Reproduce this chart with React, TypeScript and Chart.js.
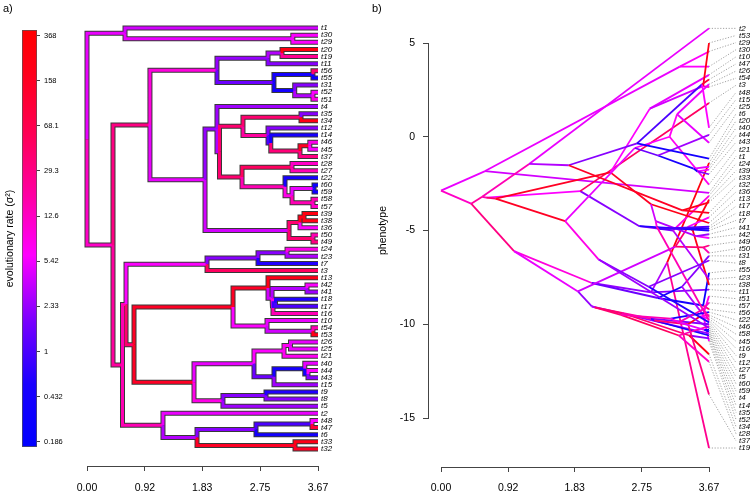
import React, { useEffect, useRef } from "react";
import { Chart, registerables } from "chart.js";
Chart.register(...registerables);

const FONT = "'Liberation Sans', Arial, Helvetica, sans-serif";
Chart.defaults.font.family = FONT;

// ---------------- data ----------------
const tipOrder = ["t1","t30","t29","t20","t19","t11","t56","t55","t31","t52","t51","t4","t35","t34","t12","t14","t46","t45","t37","t28","t27","t22","t60","t59","t58","t57","t39","t38","t36","t50","t49","t24","t23","t7","t3","t13","t42","t41","t18","t17","t16","t10","t54","t53","t26","t25","t21","t40","t44","t43","t15","t9","t8","t5","t2","t48","t47","t6","t33","t32"];

const nodeChildren: Record<string, string[]> = {
  root: ["Top", "A"], Top: ["t1", "N3029"], N3029: ["t30", "t29"],
  A: ["B", "Q"], B: ["C", "D"], C: ["C1", "C2"], C1: ["N2019", "t11"], N2019: ["t20", "t19"],
  C2: ["N5655", "N31"], N5655: ["t56", "t55"], N31: ["t31", "N5251"], N5251: ["t52", "t51"],
  D: ["E", "N"], E: ["t4", "F"], F: ["G", "K"], G: ["N3534", "H"], N3534: ["t35", "t34"],
  H: ["t12", "I"], I: ["t14", "J"], J: ["N4645", "t37"], N4645: ["t46", "t45"],
  K: ["N2827", "L"], N2827: ["t28", "t27"], L: ["t22", "M"], M: ["N6059", "N5857"],
  N6059: ["t60", "t59"], N5857: ["t58", "t57"],
  N: ["N1", "N5049"], N1: ["N3938", "t36"], N3938: ["t39", "t38"], N5049: ["t50", "t49"],
  Q: ["O", "AE"], O: ["R", "P"], R: ["S", "t3"], S: ["N2423", "t7"], N2423: ["t24", "t23"],
  P: ["T", "Y"], T: ["U", "X"], U: ["t13", "V"], V: ["N4241", "W"], N4241: ["t42", "t41"],
  W: ["W1", "t16"], W1: ["t18", "t17"], X: ["t10", "N5453"], N5453: ["t54", "t53"],
  Y: ["Z", "AD"], Z: ["AA", "AB"], AA: ["N2625", "t21"], N2625: ["t26", "t25"],
  AB: ["AC", "t15"], AC: ["t40", "N4443"], N4443: ["t44", "t43"],
  AD: ["N98", "t5"], N98: ["t9", "t8"],
  AE: ["t2", "AF"], AF: ["AG", "N3332"], AG: ["N4847", "t6"], N4847: ["t48", "t47"], N3332: ["t33", "t32"],
};

const nodeTime: Record<string, number> = {
  root: 0, Top: 0.604, N3029: 3.27, A: 0.413, B: 1.0, C: 2.065, C1: 2.876, N2019: 3.098, C2: 2.97,
  N5655: 3.59, N31: 3.3, N5251: 3.59, D: 1.875, E: 2.065, F: 2.105, G: 2.478, N3534: 3.4, H: 2.876,
  I: 2.92, J: 3.384, N4645: 3.54, K: 2.463, N2827: 3.257, L: 3.146, M: 3.257, N6059: 3.607, N5857: 3.59,
  N: 3.21, N1: 3.384, N3938: 3.448, N5049: 3.59, Q: 0.564, O: 0.62, R: 1.907, S: 2.717, N2423: 3.178,
  P: 0.747, T: 2.32, U: 2.876, V: 2.94, N4241: 3.495, W: 2.955, W1: 2.995, X: 2.86, N5453: 3.59,
  Y: 1.7, Z: 2.653, AA: 3.13, N2625: 3.233, AB: 2.971, AC: 3.46, N4443: 3.511, AD: 2.16, N98: 2.844,
  AE: 1.207, AF: 1.748, AG: 2.685, N4847: 3.575, N3332: 3.305,
};

// phenotype of internal nodes
const nodeValue: Record<string, number> = {
  root: -2.87, Top: -1.83, N3029: 3.74, A: -3.57, B: -6.1, C: -7.8, C1: -8.3, N2019: -6.7, C2: -8.6,
  N5655: -9.0, N31: -8.0, N5251: -9.5, D: -8.25, E: -9.05, F: -9.1, G: -9.4, N3534: -10.6, H: -9.7,
  I: -9.8, J: -10.0, N4645: -9.6, K: -9.5, N2827: -10.6, L: -9.7, M: -9.9, N6059: -10.3, N5857: -9.2,
  N: -5.86, N1: -4.8, N3938: -5.0, N5049: -5.9, Q: -3.2, O: -3.25, R: -2.9, S: -4.77, N2423: -5.0,
  P: -3.3, T: -1.9, U: -3.6, V: -4.5, N4241: -5.3, W: -4.8, W1: -4.9, X: 1.5, N5453: 2.7,
  Y: -4.5, Z: -0.6, AA: 0.0, N2625: 1.2, AB: -1.0, AC: -1.7, N4443: -1.85, AD: -6.55, N98: -8.0,
  AE: -1.45, AF: -1.52, AG: -0.35, N4847: 2.8, N3332: -3.93,
};

// phenotype of tips
const tipValue: Record<string, number> = {
  t2: 5.78, t53: 5.0, t29: 4.55, t30: 3.74, t10: 3.3, t47: 3.05, t26: 2.8, t54: 2.65, t3: 1.8, t48: 0.48,
  t15: 0.1, t25: -0.32, t6: -1.17, t20: -1.4, t40: -1.6, t44: -1.75, t43: -2.0, t21: -2.55, t1: -2.99, t24: -3.15,
  t39: -3.35, t33: -3.5, t32: -4.06, t36: -4.3, t13: -4.6, t17: -4.8, t18: -4.9, t7: -5.0, t41: -5.2, t42: -5.4,
  t49: -5.8, t50: -6.2, t31: -6.35, t8: -6.6, t55: -7.26, t23: -7.6, t38: -7.9, t11: -8.15, t51: -8.5, t57: -8.85,
  t56: -9.2, t22: -9.35, t46: -9.5, t58: -9.6, t45: -9.7, t16: -9.8, t9: -9.9, t12: -10.0, t27: -10.1, t5: -10.2,
  t60: -10.3, t59: -10.4, t4: -10.5, t14: -10.6, t35: -10.75, t52: -10.9, t34: -11.6, t28: -12.0, t37: -13.75, t19: -16.6,
};

// evolutionary rate of the branch leading to each node
const branchRate: Record<string, number> = {
  Top: 5, t1: 4, N3029: 5, t30: 6, t29: 6, A: 12, B: 30, C: 9, C1: 2.3, N2019: 3, t20: 250, t19: 25, t11: 2,
  C2: 1.5, N5655: 0.4, t56: 40, t55: 0.3, N31: 0.4, t31: 2, N5251: 3, t52: 6, t51: 8,
  D: 5, E: 2.3, t4: 2.5, F: 3, G: 40, N3534: 40, t35: 2, t34: 200, H: 20, t12: 2, I: 1, t14: 0.5, J: 35,
  N4645: 150, t46: 8, t45: 6, t37: 30, K: 40, N2827: 50, t28: 12, t27: 15, L: 15, t22: 0.5, M: 8,
  N6059: 5, t60: 0.3, t59: 0.35, N5857: 15, t58: 15, t57: 12, N: 4, N1: 40, N3938: 200, t39: 250, t38: 200,
  t36: 6, N5049: 40, t50: 15, t49: 30, Q: 20, O: 15, R: 6, S: 2, N2423: 2, t24: 8, t23: 3, t7: 0.6, t3: 50,
  P: 40, T: 150, U: 150, t13: 200, V: 4, N4241: 3, t42: 6, t41: 2.5, W: 8, W1: 0.8, t18: 0.6, t17: 1, t16: 15,
  X: 6, t10: 5, N5453: 4, t54: 15, t53: 200, Y: 150, Z: 5, AA: 6, N2625: 7, t26: 5, t25: 5, t21: 7,
  AB: 1.5, AC: 0.5, t40: 5, N4443: 0.4, t44: 6, t43: 2, t15: 2.5, AD: 8, N98: 2, t9: 0.6, t8: 2, t5: 2.5,
  AE: 15, t2: 5, AF: 3, AG: 2, N4847: 1, t48: 6, t47: 100, t6: 0.4, N3332: 150, t33: 200, t32: 150,
};

const timeTicks = [0, 0.92, 1.83, 2.75, 3.67];
const timeTickLabels = ["0.00", "0.92", "1.83", "2.75", "3.67"];
const rateTicks = [0.186, 0.432, 1, 2.33, 5.42, 12.6, 29.3, 68.1, 158, 368];
const rateTickLabels = ["0.186", "0.432", "1", "2.33", "5.42", "12.6", "29.3", "68.1", "158", "368"];
const phenoTicks = [5, 0, -5, -10, -15];
const TREE_HEIGHT = 3.67;
const RATE_MIN = 0.168;
const RATE_MAX = 408;

// ---------------- colours ----------------
const palette: [number, number[]][] = [
  [0, [0, 0, 255]],
  [0.15, [25, 0, 255]],
  [0.3, [120, 0, 255]],
  [0.46, [255, 0, 255]],
  [0.6, [255, 0, 165]],
  [0.75, [255, 0, 85]],
  [0.9, [255, 0, 25]],
  [1, [255, 0, 0]],
];
function paletteAt(f: number) {
  f = Math.max(0, Math.min(1, f));
  for (let i = 1; i < palette.length; i++) {
    const [f1, c1] = palette[i];
    const [f0, c0] = palette[i - 1];
    if (f <= f1) {
      const u = (f - f0) / (f1 - f0);
      const c = c0.map((v, k) => Math.round(v + (c1[k] - v) * u));
      return `rgb(${c[0]},${c[1]},${c[2]})`;
    }
  }
  return "rgb(255,0,0)";
}
function rateColor(r: number) {
  return paletteAt((Math.log(r) - Math.log(RATE_MIN)) / (Math.log(RATE_MAX) - Math.log(RATE_MIN)));
}

// ---------------- tree geometry ----------------
const isTip = (n: string) => !(n in nodeChildren);
const nodeX = (n: string) => (isTip(n) ? TREE_HEIGHT : nodeTime[n]);
const nodeV = (n: string) => (isTip(n) ? tipValue[n] : nodeValue[n]);
const treeY: Record<string, number> = {};
tipOrder.forEach((t, i) => (treeY[t] = i + 1));
function fillY(n: string): number {
  if (treeY[n] !== undefined) return treeY[n];
  const ys = nodeChildren[n].map(fillY);
  treeY[n] = (ys[0] + ys[ys.length - 1]) / 2;
  return treeY[n];
}
fillY("root");
const edges: [string, string][] = [];
(function walk(n: string) {
  (nodeChildren[n] || []).forEach((c) => {
    edges.push([n, c]);
    walk(c);
  });
})("root");

// layout constants (pixels on the page)
const L_LEFT = 50, L_W = 320, L_AREA_L = 87, L_AREA_R = 318, L_AREA_T = 20, L_AREA_B = 466;
const TIP_TOP = 28, TIP_BOTTOM = 449;
const R_LEFT = 370, R_W = 380, R_AXIS_X = 428, R_AREA_L = 441, R_AREA_R = 709;
const P_TOP = 43, P_BOTTOM = 418, R_XAXIS_Y = 467, R_LAB_TOP = 20;
const LINK = 0.37;

const noPad = (s: any) => { s.paddingTop = 0; s.paddingBottom = 0; };

export default function App() {
  const cRef = useRef<HTMLCanvasElement>(null);
  const lRef = useRef<HTMLCanvasElement>(null);
  const r1Ref = useRef<HTMLCanvasElement>(null);
  const r2Ref = useRef<HTMLCanvasElement>(null);

  useEffect(() => {
    const charts: Chart[] = [];
    const noPlug = { legend: { display: false }, tooltip: { enabled: false } };

    // ---- colour bar ----
    charts.push(
      new Chart(cRef.current!, {
        type: "bar",
        data: {
          labels: ["rate"],
          datasets: [
            {
              data: [[RATE_MIN, RATE_MAX]] as any,
              backgroundColor: (ctx: any) => {
                const ca = ctx.chart.chartArea;
                if (!ca) return "#f0f";
                const g = ctx.chart.ctx.createLinearGradient(0, ca.bottom, 0, ca.top);
                palette.forEach(([f, c]) => g.addColorStop(f, `rgb(${c[0]},${c[1]},${c[2]})`));
                return g;
              },
              borderColor: "#555",
              borderWidth: 1,
              borderSkipped: false,
              barPercentage: 1,
              categoryPercentage: 1,
            } as any,
          ],
        },
        options: {
          animation: false,
          responsive: false,
          devicePixelRatio: 1,
          layout: { padding: { left: 3, top: 0, right: 0, bottom: 46 } },
          plugins: {
            ...noPlug,
            title: {
              display: true, text: "a)", align: "start", color: "#000",
              font: { size: 11, weight: "normal" as any }, padding: { top: 2, bottom: 14.8 },
            },
          },
          scales: {
            x: { display: false },
            y: {
              type: "logarithmic", position: "right", min: RATE_MIN, max: RATE_MAX,
              afterBuildTicks: (s: any) => { s.ticks = rateTicks.map((v) => ({ value: v })); },
              afterFit: (s: any) => { s.width = 53; noPad(s); },
              grid: { drawOnChartArea: false, drawTicks: true, tickLength: 3, tickColor: "#444" },
              border: { display: false },
              ticks: { autoSkip: false, padding: 4, color: "#000", font: { size: 7.5 }, callback: (_v: any, i: number) => rateTickLabels[i] },
            },
            yt: {
              type: "linear", position: "left",
              afterFit: (s: any) => { s.width = 19; noPad(s); },
              grid: { display: false, drawTicks: false }, border: { display: false }, ticks: { display: false },
              title: { display: true, text: "evolutionary rate (σ²)", color: "#000", font: { size: 10.5 }, padding: { top: 1, bottom: 0 } },
            },
          },
        } as any,
      })
    );

    // ---- tree (panel a) ----
    const treePts: any[] = [];
    const treeCols: string[] = [];
    edges.forEach(([p, c]) => {
      const col = rateColor(branchRate[c]);
      treePts.push({ x: nodeX(p), y: treeY[p] }, { x: nodeX(p), y: treeY[c] }, { x: nodeX(c), y: treeY[c] }, { x: nodeX(c), y: null });
      treeCols.push(col, col, col, col);
    });
    const tipStep = (TIP_BOTTOM - TIP_TOP) / (tipOrder.length - 1);
    const yMinL = 1 - (TIP_TOP - L_AREA_T) / tipStep;
    const yMaxL = 1 + (L_AREA_B - TIP_TOP) / tipStep;
    charts.push(
      new Chart(lRef.current!, {
        type: "line",
        data: {
          datasets: [
            {
              data: treePts, borderColor: "#f0f", borderWidth: 3, pointRadius: 0, order: 0, clip: false,
              borderJoinStyle: "miter", borderCapStyle: "butt",
              segment: { borderColor: (ctx: any) => treeCols[ctx.p0DataIndex] },
            } as any,
            {
              data: treePts, borderColor: "#383838", borderWidth: 5, pointRadius: 0, order: 1, clip: false,
              borderJoinStyle: "miter", borderCapStyle: "butt",
            } as any,
          ],
        },
        options: {
          animation: false, responsive: false, devicePixelRatio: 1,
          layout: { padding: { left: L_AREA_L - L_LEFT, top: L_AREA_T, right: 0, bottom: 0 } },
          plugins: noPlug,
          scales: {
            x: {
              type: "linear", position: "bottom", min: 0, max: TREE_HEIGHT,
              afterBuildTicks: (s: any) => { s.ticks = timeTicks.map((v) => ({ value: v })); },
              afterFit: (s: any) => { s.height = 493 - L_AREA_B; },
              grid: { drawOnChartArea: false, drawTicks: true, tickLength: 5, tickColor: "#444" },
              border: { display: true, color: "#444" },
              ticks: { autoSkip: false, maxRotation: 0, padding: 11, color: "#000", font: { size: 10.5 }, callback: (_v: any, i: number) => timeTickLabels[i] },
            },
            y: {
              type: "linear", position: "right", reverse: true, min: yMinL, max: yMaxL,
              afterBuildTicks: (s: any) => { s.ticks = tipOrder.map((_, i) => ({ value: i + 1 })); },
              afterFit: (s: any) => { s.width = L_LEFT + L_W - L_AREA_R; noPad(s); },
              grid: { display: false, drawTicks: false }, border: { display: false },
              ticks: { autoSkip: false, padding: 3, color: "#000", font: { size: 8, style: "italic" }, callback: (_v: any, i: number) => tipOrder[i] },
            },
          },
        } as any,
      })
    );

    // ---- phenogram (panel b) ----
    const phPts: any[] = [];
    const phCols: string[] = [];
    edges.forEach(([p, c]) => {
      const col = rateColor(branchRate[c]);
      phPts.push({ x: nodeX(p), y: nodeV(p) }, { x: nodeX(c), y: nodeV(c) }, { x: nodeX(c), y: null });
      phCols.push(col, col, col);
    });
    const byValue = Object.keys(tipValue).sort((a, b) => tipValue[b] - tipValue[a]);
    const vMax = tipValue[byValue[0]];
    const vMin = tipValue[byValue[byValue.length - 1]];
    const labelV = byValue.map((_, i) => vMax - (i * (vMax - vMin)) / (byValue.length - 1));
    const linkPts: any[] = [];
    byValue.forEach((t, i) => {
      linkPts.push({ x: TREE_HEIGHT, y: tipValue[t] }, { x: TREE_HEIGHT + LINK, y: labelV[i] }, { x: TREE_HEIGHT, y: null });
    });
    const pxPerT = (R_AREA_R - R_AREA_L) / TREE_HEIGHT;
    const pxPerV = (P_BOTTOM - P_TOP) / 20;
    const vAt = (y: number) => 5 - (y - P_TOP) / pxPerV;

    charts.push(
      new Chart(r1Ref.current!, {
        type: "line",
        data: {
          datasets: [
            {
              data: phPts, borderColor: "#f0f", borderWidth: 1.8, pointRadius: 0, order: 0, clip: false,
              segment: { borderColor: (ctx: any) => phCols[ctx.p0DataIndex] },
            } as any,
            {
              data: linkPts, borderColor: "#8c8c8c", borderWidth: 0.8, borderDash: [1.2, 1.6], pointRadius: 0, order: 1, clip: false,
            } as any,
          ],
        },
        options: {
          animation: false, responsive: false, devicePixelRatio: 1,
          layout: { padding: { left: 2, right: R_LEFT + R_W - R_AREA_R, top: 0, bottom: 493 - P_BOTTOM } },
          plugins: {
            ...noPlug,
            title: {
              display: true, text: "b)", align: "start", color: "#000",
              font: { size: 11, weight: "normal" as any }, padding: { top: 2, bottom: P_TOP - 15.2 },
            },
          },
          scales: {
            x: { type: "linear", display: false, min: -(R_AREA_L - R_AXIS_X) / pxPerT, max: TREE_HEIGHT },
            y: {
              type: "linear", position: "left", min: -15, max: 5,
              afterBuildTicks: (s: any) => { s.ticks = phenoTicks.map((v) => ({ value: v })); },
              afterFit: (s: any) => { s.width = R_AXIS_X - R_LEFT - 2; noPad(s); },
              grid: { drawOnChartArea: false, drawTicks: true, tickLength: 5, tickColor: "#444" },
              border: { display: true, color: "#444" },
              ticks: { autoSkip: false, padding: 8, color: "#000", font: { size: 10.5 }, callback: (v: any) => String(v) },
              title: { display: true, text: "phenotype", color: "#000", font: { size: 10.5 }, padding: { top: 5, bottom: 0 } },
            },
          },
        } as any,
      })
    );

    charts.push(
      new Chart(r2Ref.current!, {
        type: "line",
        data: { datasets: [] },
        options: {
          animation: false, responsive: false, devicePixelRatio: 1,
          layout: { padding: { left: R_AREA_L - R_LEFT, top: R_LAB_TOP, right: 0, bottom: 0 } },
          plugins: noPlug,
          scales: {
            x: {
              type: "linear", position: "bottom", min: 0, max: TREE_HEIGHT,
              afterBuildTicks: (s: any) => { s.ticks = timeTicks.map((v) => ({ value: v })); },
              afterFit: (s: any) => { s.height = 493 - R_XAXIS_Y; },
              grid: { drawOnChartArea: false, drawTicks: true, tickLength: 5, tickColor: "#444" },
              border: { display: true, color: "#444" },
              ticks: { autoSkip: false, maxRotation: 0, padding: 10, color: "#000", font: { size: 10.5 }, callback: (_v: any, i: number) => timeTickLabels[i] },
            },
            y: {
              type: "linear", position: "right", min: vAt(R_XAXIS_Y), max: vAt(R_LAB_TOP),
              afterBuildTicks: (s: any) => { s.ticks = labelV.map((v) => ({ value: v })); },
              afterFit: (s: any) => { s.width = R_LEFT + R_W - R_AREA_R; noPad(s); },
              grid: { display: false, drawTicks: false }, border: { display: false },
              ticks: { autoSkip: false, padding: 30, color: "#000", font: { size: 8, style: "italic" }, callback: (_v: any, i: number) => byValue[i] },
            },
          },
        } as any,
      })
    );

    return () => charts.forEach((c) => c.destroy());
  }, []);

  const abs = (left: number, width: number): React.CSSProperties => ({ position: "absolute", left, top: 0, width, height: 493 });
  return (
    <div style={{ position: "absolute", left: 0, top: 0, width: 750, height: 493, background: "#fff", overflow: "hidden" }}>
      <canvas ref={lRef} width={L_W} height={493} style={abs(L_LEFT, L_W)} />
      <canvas ref={cRef} width={90} height={493} style={abs(0, 90)} />
      <canvas ref={r1Ref} width={R_W} height={493} style={abs(R_LEFT, R_W)} />
      <canvas ref={r2Ref} width={R_W} height={493} style={abs(R_LEFT, R_W)} />
    </div>
  );
}
